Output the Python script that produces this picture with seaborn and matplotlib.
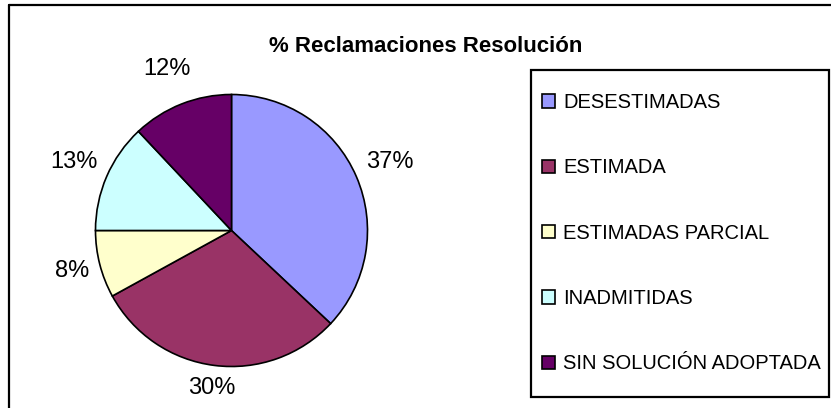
import numpy as np
import seaborn as sns
import matplotlib.pyplot as plt
from matplotlib.patches import Rectangle
from matplotlib.lines import Line2D

# ---- Data ----
categorias = ['DESESTIMADAS', 'ESTIMADA', 'ESTIMADAS PARCIAL', 'INADMITIDAS',
              'SIN SOLUCIÓN ADOPTADA']
porcentajes = [37, 30, 8, 13, 12]
colores = ['#9999FF', '#993366', '#FFFFCC', '#CCFFFF', '#660066']
titulo = '% Reclamaciones Resolución'

# distance of each percent label from the centre (in radii)
dist_etiquetas = [1.27, 1.17, 1.21, 1.26, 1.28]

sns.set_theme(style='white')
plt.rcParams['font.family'] = ['Liberation Sans', 'DejaVu Sans']
plt.rcParams['text.color'] = 'black'

fig = plt.figure(figsize=(8.31, 4.08), dpi=100)
W, H = 831, 408

# pie axes: centre ~ (231, 230) px, radius ~136 px
cx, cy, r = 231.5, 230.5, 136
ax = fig.add_axes([(cx - r) / W, (H - cy - r) / H, 2 * r / W, 2 * r / H])

wedges, _ = ax.pie(porcentajes, colors=sns.color_palette(colores),
                   startangle=90, counterclock=False,
                   wedgeprops=dict(edgecolor='black', linewidth=1.2))
ax.set_xlim(-1, 1)
ax.set_ylim(-1, 1)
ax.set_aspect('equal')
ax.axis('off')

for w, p, d in zip(wedges, porcentajes, dist_etiquetas):
    ang = np.deg2rad((w.theta1 + w.theta2) / 2)
    ax.text(d * np.cos(ang), d * np.sin(ang), f'{p}%', ha='center', va='center',
            fontsize=17, color='black', clip_on=False)

# title
fig.text(426 / W, 1 - 46 / H, titulo, ha='center', va='center',
         fontsize=16, fontweight='bold', color='black')

# outer border (top and left only visible)
fig.add_artist(Line2D([9 / W, 9 / W], [0, 1 - 5 / H], color='black', lw=1.6,
                      transform=fig.transFigure))
fig.add_artist(Line2D([9 / W, 1], [1 - 5 / H, 1 - 5 / H], color='black', lw=1.6,
                      transform=fig.transFigure))

# legend box
lx0, ly0, lx1, ly1 = 531, 70, 829, 397
fig.add_artist(Rectangle((lx0 / W, 1 - ly1 / H), (lx1 - lx0) / W, (ly1 - ly0) / H,
                         transform=fig.transFigure, fill=False,
                         edgecolor='black', lw=1.6))

handles = [Rectangle((0, 0), 1, 1, facecolor=c, edgecolor='black', lw=1.2)
           for c in colores]
fig.legend(handles, categorias, loc='upper left',
           bbox_to_anchor=(542 / W, 1 - 93 / H), frameon=False,
           fontsize=14.5, labelcolor='black', handlelength=0.64,
           handleheight=0.64, handletextpad=0.4, labelspacing=2.3,
           borderpad=0, borderaxespad=0)

fig.savefig('out.png', dpi=100)
